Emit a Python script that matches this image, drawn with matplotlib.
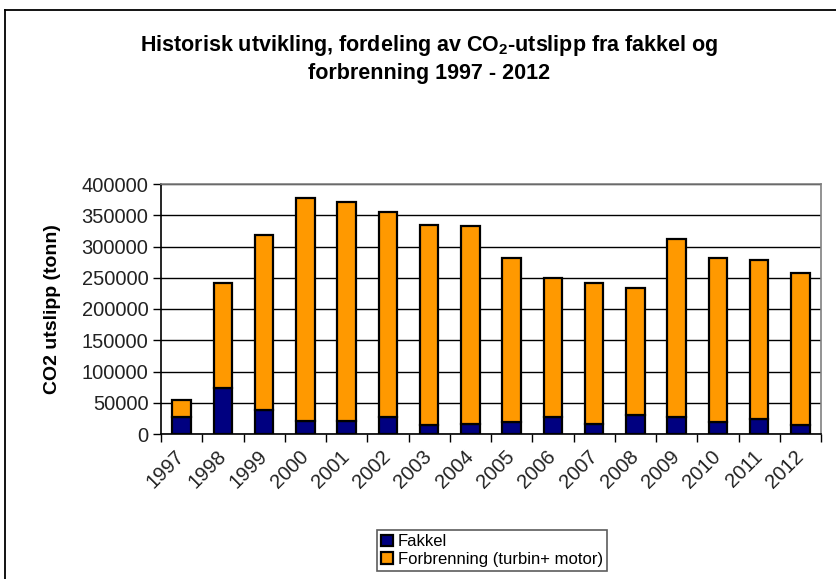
import numpy as np
import matplotlib
matplotlib.use("Agg")
import matplotlib.pyplot as plt
from matplotlib.lines import Line2D

plt.rcParams['font.family'] = ['Liberation Sans', 'DejaVu Sans']
plt.rcParams['mathtext.fontset'] = 'custom'
plt.rcParams['mathtext.rm'] = 'Liberation Sans'
plt.rcParams['mathtext.bf'] = 'Liberation Sans:bold'

# CO2 utslipp per år (tonn)
years = ['1997', '1998', '1999', '2000', '2001', '2002', '2003', '2004',
         '2005', '2006', '2007', '2008', '2009', '2010', '2011', '2012']
fakkel = [26500, 73500, 39000, 21000, 21000, 27000, 15000, 16500,
          19000, 27000, 16500, 31000, 27000, 19000, 24500, 15000]
totalt = [54500, 242000, 318000, 377500, 372000, 355000, 334500, 332500,
          281500, 249500, 241500, 234000, 312000, 281500, 279000, 258000]
forbrenning = [t - f for t, f in zip(totalt, fakkel)]

yticks = np.arange(0, 400001, 50000)

W, H = 836, 579
fig = plt.figure(figsize=(W / 100, H / 100), dpi=100)
ax = fig.add_axes([161 / W, 1 - 434 / H, (821 - 161) / W, (434 - 184) / H])

x = np.arange(len(years))
bw = 0.45
ax.bar(x, fakkel, bw, color='#000080', edgecolor='black', linewidth=1.6,
       label='Fakkel', zorder=3)
ax.bar(x, forbrenning, bw, bottom=fakkel, color='#FF9900', edgecolor='black',
       linewidth=1.6, label='Forbrenning (turbin+ motor)', zorder=3)

ax.set_xlim(-0.5, len(years) - 0.5)
ax.set_ylim(0, 400000)
ax.set_yticks(yticks)
ax.set_yticklabels([str(v) for v in yticks], fontsize=14.5, color='#222222')
ax.yaxis.grid(True, color='black', linewidth=1.0, zorder=0)
ax.tick_params(axis='y', length=6, width=1.0, direction='out', pad=3)

# category labels at bar centres, tick marks between categories
ax.set_xticks(x)
ax.set_xticklabels(years, rotation=45, ha='right', va='center',
                   rotation_mode='anchor', fontsize=14.5, color='#222222')
ax.tick_params(axis='x', which='major', length=0, pad=14)
ax.set_xticks(np.arange(-0.5, len(years)), minor=True)
ax.tick_params(axis='x', which='minor', length=6, width=1.0, direction='out')

for side in ('top', 'right'):
    ax.spines[side].set_color('#808080')
    ax.spines[side].set_linewidth(1.2)
for side in ('left', 'bottom'):
    ax.spines[side].set_color('black')
    ax.spines[side].set_linewidth(1.2)

ax.set_ylabel('CO2 utslipp (tonn)', fontsize=14, fontweight='bold')
ax.yaxis.set_label_coords(-0.152, 0.5)

fig.text(429 / W, 1 - 46 / H,
         r'Historisk utvikling, fordeling av CO$_\mathbf{2}$-utslipp fra fakkel og',
         ha='center', va='center', fontsize=15.5, fontweight='bold')
fig.text(429 / W, 1 - 73 / H, 'forbrenning 1997 - 2012',
         ha='center', va='center', fontsize=15.5, fontweight='bold')

leg = fig.legend(loc='upper left', bbox_to_anchor=(377 / W, 1 - 530 / H),
                 borderaxespad=0, fontsize=12, frameon=True, fancybox=False,
                 handlelength=0.7, handleheight=0.7, handletextpad=0.3,
                 labelspacing=0.15, borderpad=0.25)
leg.get_frame().set_edgecolor('#333333')
leg.get_frame().set_linewidth(1.2)

# chart area border (left and top edges)
fig.add_artist(Line2D([5 / W, 5 / W], [0, 1 - 10 / H], color='black',
                      linewidth=1.3, transform=fig.transFigure))
fig.add_artist(Line2D([5 / W, 1], [1 - 10 / H, 1 - 10 / H], color='black',
                      linewidth=1.3, transform=fig.transFigure))

fig.savefig('out.png', dpi=100)
